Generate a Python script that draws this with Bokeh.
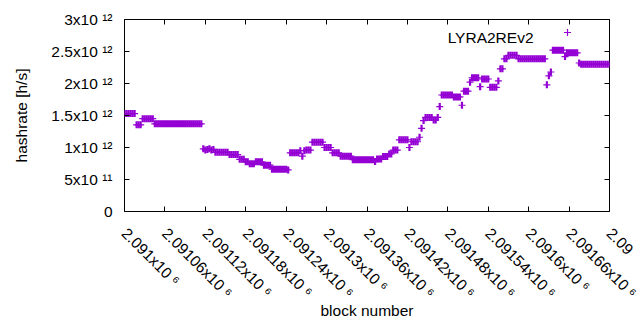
import math
from bokeh.plotting import figure
from bokeh.models import FixedTicker, Label, Range1d, LinearAxis, CustomJSTickFormatter
from bokeh.embed import file_html
from bokeh.resources import INLINE

# ---------------- data ----------------
first_block = 2091000
block_step = 3
hashrate_e12 = [
    1.53, 1.53, 1.53, 1.53, 1.53, 1.53, 1.355, 1.355, 1.355, 1.45, 1.45, 1.45,
    1.45, 1.45, 1.45, 1.37, 1.37, 1.37, 1.37, 1.37, 1.37, 1.37, 1.37, 1.37,
    1.37, 1.37, 1.37, 1.37, 1.37, 1.37, 1.37, 1.37, 1.37, 1.37, 1.37, 1.37,
    1.37, 1.37, 1.37, 0.98, 0.96, 0.97, 0.98, 0.96, 0.97, 0.925, 0.925, 0.925,
    0.925, 0.925, 0.925, 0.925, 0.89, 0.89, 0.89, 0.89, 0.89, 0.815, 0.815, 0.815,
    0.776, 0.776, 0.745, 0.745, 0.745, 0.776, 0.776, 0.776, 0.776, 0.724, 0.724, 0.724,
    0.724, 0.66, 0.66, 0.66, 0.66, 0.66, 0.66, 0.66, 0.66, 0.65, 0.917, 0.917,
    0.917, 0.917, 0.917, 0.95, 0.865, 0.95, 0.96, 0.96, 0.96, 1.083, 1.083, 1.083,
    1.083, 1.083, 1.083, 1.0, 1.0, 1.0, 1.0, 0.917, 0.917, 0.917, 0.917, 0.865,
    0.865, 0.865, 0.865, 0.865, 0.865, 0.81, 0.81, 0.81, 0.81, 0.81, 0.81, 0.81,
    0.81, 0.81, 0.81, 0.81, 0.78, 0.82, 0.82, 0.82, 0.86, 0.86, 0.86, 0.90,
    0.90, 0.96, 0.96, 0.96, 1.12, 1.12, 1.12, 1.12, 1.12, 1.0, 1.09, 1.09,
    1.09, 1.09, 1.16, 1.30, 1.42, 1.47, 1.47, 1.47, 1.47, 1.43, 1.43, 1.47,
    1.64, 1.82, 1.82, 1.82, 1.82, 1.82, 1.82, 1.79, 1.79, 1.79, 1.79, 1.66,
    1.88, 1.88, 1.88, 2.02, 2.09, 2.09, 2.09, 2.09, 1.95, 2.07, 2.07, 2.07,
    2.07, 1.94, 1.94, 1.94, 1.94, 2.04, 2.23, 2.23, 2.385, 2.385, 2.44, 2.44,
    2.44, 2.44, 2.44, 2.385, 2.385, 2.385, 2.385, 2.385, 2.385, 2.385, 2.385, 2.385,
    2.385, 2.385, 2.385, 2.385, 2.385, 1.98, 2.12, 2.18, 2.52, 2.52, 2.52, 2.52,
    2.52, 2.52, 2.42, 2.48, 2.48, 2.48, 2.48, 2.48, 2.48, 2.32, 2.30, 2.30,
    2.30, 2.30, 2.30, 2.30, 2.30, 2.30, 2.30, 2.30, 2.30, 2.30, 2.30, 2.30,
    2.30,
]
blocks = [first_block + block_step * i for i in range(len(hashrate_e12))]
hashrate = [v * 1e12 for v in hashrate_e12]

x_ticks = [2091000, 2091060, 2091120, 2091180, 2091240, 2091300, 2091360,
           2091420, 2091480, 2091540, 2091600, 2091660, 2091720]
# the last label runs off the right edge of the picture; only its start is shown
x_tick_labels = ["2.091x10 \u2076", "2.09106x10 \u2076", "2.09112x10 \u2076", "2.09118x10 \u2076",
                 "2.09124x10 \u2076", "2.0913x10 \u2076", "2.09136x10 \u2076", "2.09142x10 \u2076",
                 "2.09148x10 \u2076", "2.09154x10 \u2076", "2.0916x10 \u2076", "2.09166x10 \u2076",
                 "2.09"]
y_ticks = [0, 500000000000, 1000000000000, 1500000000000, 2000000000000,
           2500000000000, 3000000000000]
y_tick_labels = ["0", "5x10 \u00b9\u00b9", "1x10 \u00b9\u00b2", "1.5x10 \u00b9\u00b2",
                 "2x10 \u00b9\u00b2", "2.5x10 \u00b9\u00b2", "3x10 \u00b9\u00b2"]
series_name = "LYRA2REv2"
x_title = "block number"
y_title = "hashrate [h/s]"

# ---------------- style ----------------
COLOR = "#9400d3"
FONT = "Liberation Sans"
FS = "15.5px"
XMIN, XMAX = 2091000, 2091720
YMIN, YMAX = 0, 3e12
FRAME_W, FRAME_H = 485, 192

# Bokeh centres rotated labels on their box: pad shorter labels with trailing
# spaces (two spaces ~ one digit) so that all of them start at the same height.
def padded(label, ref_len=len("2.09106x10 \u2076")):
    if label.endswith("\u2076"):
        return label + " " * (2 * (ref_len - len(label)))
    return label

x_tick_text = [padded(s) for s in x_tick_labels]

p = figure(width=640, height=330, output_backend="svg", toolbar_location=None,
           x_range=Range1d(XMIN, XMAX), y_range=Range1d(YMIN, YMAX),
           min_border_left=124, min_border_right=31, min_border_top=19,
           min_border_bottom=119, x_axis_type=None, y_axis_type=None)
p.grid.visible = False
p.outline_line_color = "black"
p.outline_line_width = 1
p.background_fill_color = "white"
p.border_fill_color = "white"

def style_axis(ax):
    ax.major_tick_in = 5
    ax.major_tick_out = 0
    ax.minor_tick_line_color = None
    ax.axis_line_color = None
    ax.major_tick_line_color = "black"
    ax.major_label_text_font = FONT
    ax.major_label_text_font_size = FS
    ax.major_label_text_color = "black"
    ax.axis_label_text_font = FONT
    ax.axis_label_text_font_size = FS
    ax.axis_label_text_font_style = "normal"
    ax.axis_label_text_color = "black"

# bottom axis with rotated labels
xb = LinearAxis(ticker=FixedTicker(ticks=x_ticks), axis_label=x_title)
style_axis(xb)
xb.major_label_overrides = dict(zip(x_ticks, x_tick_text))
xb.major_label_orientation = -math.pi / 4
xb.major_label_standoff = 19
xb.axis_label_standoff = -8
p.add_layout(xb, "below")

# left axis
yl = LinearAxis(ticker=FixedTicker(ticks=y_ticks), axis_label=y_title)
style_axis(yl)
yl.major_label_overrides = dict(zip(y_ticks, y_tick_labels))
yl.major_label_standoff = 12
yl.axis_label_standoff = 18
p.add_layout(yl, "left")

# mirrored ticks (no labels)
empty = CustomJSTickFormatter(code="return ''")
for loc, ticks in (("above", x_ticks), ("right", y_ticks)):
    ax = LinearAxis(ticker=FixedTicker(ticks=ticks), formatter=empty)
    style_axis(ax)
    ax.major_label_text_font_size = "0px"
    ax.major_label_standoff = 0
    p.add_layout(ax, loc)

# points drawn as "+": horizontal arm + vertical arm
p.scatter(blocks, hashrate, marker="dash", size=7, line_color=COLOR, line_width=1.2)
p.scatter(blocks, hashrate, marker="dash", angle=math.pi / 2, size=7, line_color=COLOR, line_width=2.2)

# key (gnuplot style: text then sample)
p.add_layout(Label(x=XMAX, y=YMAX, text=series_name, x_offset=-76, y_offset=-18.3,
                   text_font=FONT, text_font_size=FS, text_color="black",
                   text_align="right", text_baseline="alphabetic"))
px_x = (XMAX - XMIN) / FRAME_W
px_y = (YMAX - YMIN) / FRAME_H
p.scatter([XMAX - 42 * px_x], [YMAX - 13 * px_y], marker="cross", size=7,
          line_color=COLOR, line_width=1.2)

open("out.html", "w").write(file_html(p, INLINE))
